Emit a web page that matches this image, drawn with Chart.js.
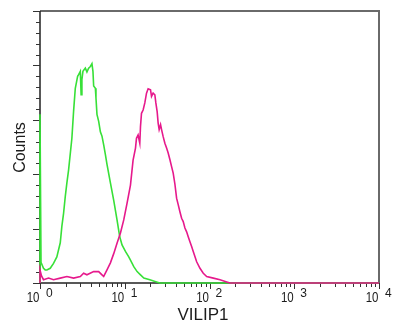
<!DOCTYPE html>
<html>
<head>
<meta charset="utf-8">
<script src="https://cdn.jsdelivr.net/npm/chart.js@4/dist/chart.umd.min.js"></script>
<style>
  html, body { margin: 0; padding: 0; background: #fff; }
  canvas { display: block; }
</style>
</head>
<body>
<canvas id="hist" width="399" height="327"></canvas>
<script>
// Isotype control histogram (green): fluorescence intensity and event counts
const greenX = [1, 1, 1.028, 1.10, 1.152, 1.204, 1.32, 1.444, 1.58, 1.734,
  1.811, 1.897, 1.987, 2.076, 2.175, 2.378, 2.491, 2.609, 2.779, 2.855,
  2.99, 3.056, 3.123, 3.21, 3.427, 3.58, 3.75, 3.928, 4.102, 4.216,
  4.297, 4.5, 4.575, 4.701, 4.924, 5.157, 5.388, 5.643, 5.911, 6.174,
  6.774, 7.411, 8.107, 8.727, 9.29, 10.19, 11.15, 11.68, 12.78, 13.99,
  15.34, 16.79, 19.77, 23.72, 25.96, 10000];
const greenCounts = [0, 155, 19, 13.5, 12, 12, 13.5, 18, 24, 37,
  52, 64, 79.5, 92, 104, 133, 158, 179, 190, 191.5,
  194.5, 173, 187, 194.5, 197.5, 194, 197.5, 199, 201.5, 194.5,
  181, 179, 170, 155, 148.5, 139, 135, 127, 118, 109,
  92, 76, 58, 42.5, 35, 29, 24, 21, 15, 10.5,
  7.5, 4.5, 3, 1, 0, 0];

// VILIP1 stained sample (magenta)
const pinkX = [1, 1, 1.042, 1.10, 1.261, 1.444, 1.734, 2.076, 2.491, 2.99,
  3.272, 3.58, 4.297, 4.924, 5.388, 5.643, 6.174, 6.774, 7.411, 8.107,
  8.896, 9.731, 10.65, 11.68, 12.54, 13.39, 13.75, 14.37, 15.05, 15.34,
  15.76, 16.47, 17.25, 18.06, 18.87, 20.14, 20.7, 21.62, 22.65, 23.28,
  24.12, 24.78, 25.47, 26.46, 27.19, 28.4, 29.75, 31.16, 32.54, 34.08,
  35.7, 37.29, 39.05, 40.9, 42.73, 44.76, 46.88, 48.97, 51.29, 53.72,
  56.11, 58.77, 61.55, 64.31, 70.55, 77.2, 84.46, 92.66, 110.9, 133.1,
  159.8, 174.8, 10000];
const pinkCounts = [0, 12, 6.5, 3, 4.5, 3, 4.5, 6, 4.5, 6,
  9, 7.5, 10.5, 10.5, 7.5, 6, 12, 18.5, 27, 36.5,
  46, 58, 73.5, 90, 113, 124, 133, 136, 128.5, 144,
  156, 159, 165.5, 174.5, 178.5, 177.5, 171.5, 174.5, 173, 165.5,
  157.5, 147, 141, 145.5, 141, 134.5, 128.5, 124, 119.5, 113.5,
  107, 101, 91, 78, 72, 65.5, 59.5, 56.5, 50.5, 47,
  42.5, 38, 33.5, 29, 19.5, 13.5, 9, 6, 4.5, 3,
  1, 0, 0];

// Axis ticks
const decades = [1, 10, 100, 1000, 10000];
const decadeExponents = ['0', '1', '2', '3', '4'];
const minorSteps = [2, 3, 4, 5, 6, 7, 8, 9];
const countMax = 250;
const countMinorStep = 10;
const countMajorStep = 50;

const xTitle = 'VILIP1';
const yTitle = 'Counts';

const toPoints = (xs, ys) => xs.map((v, i) => ({ x: v, y: ys[i] }));

const FONT = '"Liberation Sans", Arial, sans-serif';
const INK = '#1c1c1c';

const axesPlugin = {
  id: 'cytoAxes',
  beforeDatasetsDraw(chart) {
    const { ctx, chartArea: a, scales: { x, y } } = chart;
    ctx.save();
    // top and right border
    ctx.strokeStyle = '#6a6a6a';
    ctx.lineWidth = 2;
    ctx.beginPath();
    ctx.moveTo(a.left, a.top);
    ctx.lineTo(a.right, a.top);
    ctx.lineTo(a.right, a.bottom);
    ctx.stroke();
    // left and bottom axes
    ctx.strokeStyle = '#222';
    ctx.lineWidth = 1.5;
    ctx.beginPath();
    ctx.moveTo(a.left, a.top);
    ctx.lineTo(a.left, a.bottom);
    ctx.lineTo(a.right, a.bottom);
    ctx.stroke();

    // y ticks (outside, left)
    ctx.lineWidth = 1;
    ctx.strokeStyle = '#333';
    ctx.beginPath();
    for (let v = 0; v <= countMax; v += countMinorStep) {
      const py = Math.round(y.getPixelForValue(v)) + 0.5;
      const len = (v % countMajorStep === 0) ? 7 : 4;
      ctx.moveTo(a.left - len, py);
      ctx.lineTo(a.left, py);
    }
    // x ticks (outside, below)
    decades.forEach((d, i) => {
      const px = Math.round(x.getPixelForValue(d)) + 0.5;
      ctx.moveTo(px, a.bottom);
      ctx.lineTo(px, a.bottom + 6);
      if (i < decades.length - 1) {
        minorSteps.forEach(m => {
          const mx = Math.round(x.getPixelForValue(d * m)) + 0.5;
          ctx.moveTo(mx, a.bottom);
          ctx.lineTo(mx, a.bottom + 4);
        });
      }
    });
    ctx.stroke();
    ctx.restore();
  },
  afterDraw(chart) {
    const { ctx, chartArea: a, scales: { x } } = chart;
    ctx.save();
    ctx.fillStyle = INK;
    // decade labels: 10 with a raised exponent
    decades.forEach((d, i) => {
      const px = x.getPixelForValue(d);
      ctx.save();
      ctx.translate(px - 0.5, a.bottom + 19);
      ctx.scale(0.82, 1);
      ctx.font = '14px ' + FONT;
      ctx.textAlign = 'right';
      ctx.textBaseline = 'alphabetic';
      ctx.fillText('10', 0, 0);
      ctx.restore();
      ctx.font = '12px ' + FONT;
      ctx.textAlign = 'left';
      ctx.textBaseline = 'alphabetic';
      ctx.fillText(decadeExponents[i], px + 6, a.bottom + 14);
    });
    // axis titles
    ctx.font = '17px ' + FONT;
    ctx.textAlign = 'center';
    ctx.textBaseline = 'alphabetic';
    ctx.fillText(xTitle, 203, a.bottom + 37);
    ctx.save();
    ctx.translate(25, 147.5);
    ctx.rotate(-Math.PI / 2);
    ctx.font = '16px ' + FONT;
    ctx.fillText(yTitle, 0, 0);
    ctx.restore();
    ctx.restore();
  }
};

new Chart(document.getElementById('hist'), {
  type: 'line',
  data: {
    datasets: [
      {
        label: 'VILIP1',
        data: toPoints(pinkX, pinkCounts),
        borderColor: '#e6198c',
        borderWidth: 1.6,
        pointRadius: 0,
        tension: 0,
        fill: false,
        clip: 3
      },
      {
        label: 'Control',
        data: toPoints(greenX, greenCounts),
        borderColor: '#38e038',
        borderWidth: 1.6,
        pointRadius: 0,
        tension: 0,
        fill: false,
        clip: 3
      }
    ]
  },
  options: {
    responsive: false,
    animation: false,
    devicePixelRatio: 1,
    layout: { padding: { left: 40, top: 11, right: 20, bottom: 44 } },
    plugins: { legend: { display: false }, tooltip: { enabled: false } },
    scales: {
      x: { type: 'logarithmic', min: 1, max: 10000, display: false },
      y: { type: 'linear', min: 0, max: countMax, display: false }
    }
  },
  plugins: [axesPlugin]
});
</script>
</body>
</html>
